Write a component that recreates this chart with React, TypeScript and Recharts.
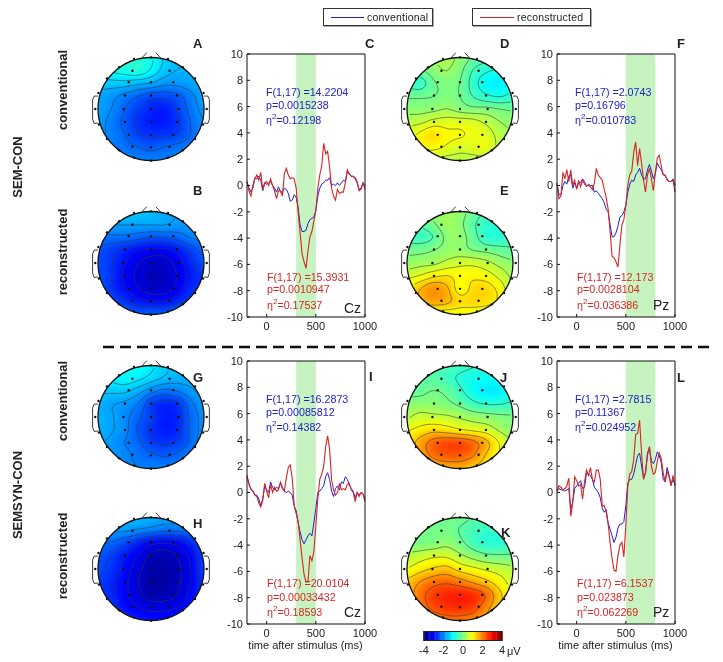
import { CSSProperties, ReactNode } from "react";
import {
  Line,
  LineChart,
  ReferenceArea,
  Scatter,
  ScatterChart,
  XAxis,
  YAxis,
} from "recharts";

const FONT = '"Liberation Sans", Arial, sans-serif';
const BLUE = "#2020cc";
const RED = "#d82424";

// --- waveforms, every 20 ms from -200 to 1000 ---
const TIMES = [
  -200, -180, -160, -140, -120, -100, -80, -60, -40, -20, 0, 20, 40, 60, 80, 100, 120, 140, 160, 180, 200, 220, 240,
  260, 280, 300, 320, 340, 360, 380, 400, 420, 440, 460, 480, 500, 520, 540, 560, 580, 600, 620, 640, 660, 680, 700,
  720, 740, 760, 780, 800, 820, 840, 860, 880, 900, 920, 940, 960, 980, 1000,
];

const C_RED = [
  0.3, -0.4, -0.8, 0, 0.5, 0.8, 0.4, 1, -0.3, 0.2, 0.3, 0, 0.5, 0, -0.4, -1, -0.4, -0.4, -0.8, 0.9, 1.3, 0.8, 0.5, 0.6,
  0.5, -0.2, -2, -3.6, -5.2, -5.8, -6.3, -5, -3.9, -3.5, -2.7, -1.9, -0.2, 0.8, 1.5, 3.2, 2.4, 2.6, 1.4, -0.2, -0.8,
  -1.1, -0.3, -0.6, -0.5, -0.5, 0.2, 1.2, 0.9, 0.7, 0.7, 0.6, 0.3, -0.4, -0.3, 0.2, -0.3,
];
const C_BLUE = [
  0.3, -0.2, -0.5, -0.2, 0.6, 0.5, 0.7, 0.4, -0.4, 0.2, 0.1, 0.2, 0.3, 0, -0.2, -0.5, -0.1, -0.5, -0.5, -0.2, -0.3,
  -0.6, -1.2, -1.1, -0.7, -0.9, -1.7, -3, -3.5, -3.5, -3.4, -2.9, -2.6, -2.5, -2.4, -1.9, -0.8, -0.2, 0.1, 0.2, 0.4,
  0.4, 0.6, 0, 0.1, 0, 0.2, 0, 0.2, 0.4, 0.3, 1, 0.9, 0.7, 0.7, 0.5, 0.2, -0.3, -0.2, 0.2, 0,
];
const F_RED = [
  0.2, -1, -0.8, 1, 0.5, 1.2, 0.3, 1.2, 0, 0.4, -0.3, 0.4, -0.1, 0.4, 0.1, 0, 0, -0.1, -0.3, 0.2, 1.3, 0.8, 0.6, 0.4,
  -0.3, -0.9, -1.8, -3.5, -5.4, -5.5, -5.8, -6.2, -4.5, -3, -2.6, -1.5, 0, 0.8, 1.1, 2.5, 3.3, 1.5, 2.8, 1.7, 0.4,
  -0.5, 0.8, 1.3, 0.5, -0.4, 1, 2.1, 2.3, 1.5, 0.8, 0.8, 0.4, 0.3, 0.3, 0.4, -0.5,
];
const F_BLUE = [
  0.1, -0.7, -0.7, 0, 0.3, 0.1, 0.7, 0.8, -0.2, 0.2, -0.2, 0.2, 0.2, 0.5, 0.3, -0.1, 0.1, 0, 0, -0.5, -0.4, -0.6, -0.8,
  -1, -1.3, -1.8, -2, -3, -3.9, -3.9, -3.6, -3.1, -2.4, -2.3, -2, -1.5, -0.5, 0.1, 0.4, 0.3, 0.8, 1, 1.3, 0.8, 0.5,
  0.5, 1.2, 1.6, 1.1, 0.5, 0.9, 1.7, 1.4, 1.2, 0.9, 0.7, 0.5, 0.3, 0.3, 0.5, 0,
];
const I_RED = [
  1.3, 0.6, 0.3, 0.1, -0.2, -0.3, -0.8, -1.1, -0.6, 0.7, 0.1, -0.4, 0.6, 0, 0.4, 0.1, 0.2, 0.8, 0.4, 0.1, 1.1, 1.9,
  2.1, 1.1, -1, -1.6, -2.2, -3.6, -5, -6.2, -6.8, -6.8, -4.8, -5.2, -4.5, -2.5, -0.5, 1, 1.4, 2, 3.5, 4.3, 3.3, 1, 0.2,
  -0.2, 0, 0.7, 0.2, 0.3, 0.2, 0.6, 0.7, 0.2, 0, -0.7, 0, -0.3, 0, -0.1, -0.7,
];
const I_BLUE = [
  1.2, 0.7, 0.2, 0.1, -0.2, -0.2, -0.5, -1, -0.5, 0.5, 0.2, 0, 0.8, 0.4, 0.2, 0.4, 0.3, 0.7, 0.3, 0.1, 0, 0.1, 0, -0.2,
  -1, -1.4, -2.3, -3, -3.6, -3.9, -3.6, -3.3, -3.1, -3.3, -2.3, -1.2, 0, 0.1, 0.3, 0.5, 1.2, 1.5, 1, 0.1, -0.3, 0.3,
  0.5, 0.2, 0.8, 0.7, 1.2, 1, 0.6, 0.3, 0.1, -0.4, 0, -0.2, 0, -0.1, -0.5,
];
const L_RED = [
  0.1, 0.5, 0.4, 0.2, 0.3, 0.5, 1.1, -1.8, -0.8, 1.2, 0.9, 0.5, 0.6, -0.5, 0.8, 1.7, 1.3, 1.9, 1, 0.8, 1.7, 1.7, 1, -1,
  -1, -1.5, -2.4, -3.8, -5, -5.9, -6, -4.8, -4, -3.8, -4.9, -2.5, 0.5, 1.4, 1.6, 2.5, 4.4, 4.5, 5.5, 3, 1, 1.5, 2.8,
  3.5, 2, 1.4, 1.5, 2.4, 3, 2.6, 1.5, 0.8, 1.6, 1.2, 0.5, 1.3, 0.5,
];
const L_BLUE = [
  0.1, 0.3, 0.2, 0.2, 0.1, 0.2, 0.3, -1.3, -0.7, 0.3, 0.5, 0.7, 0.9, 0.3, 0.4, 1.5, 1.4, 1.3, 1, 0.4, 0.2, 0, -0.4,
  -1.2, -1.5, -1.3, -2.3, -2.8, -3.3, -3.8, -3.4, -2.7, -2.4, -2.4, -2.2, -1, 0.7, 1, 1, 1.4, 2.1, 2.8, 3, 2, 1.1, 1.5,
  3, 3.4, 2.4, 2.2, 2.5, 3.1, 2.8, 2.3, 1, 0.8, 1.9, 1.3, 0.6, 1, 0.6,
];

const X_TICKS = [0, 500, 1000];
const Y_TICKS = [-10, -8, -6, -4, -2, 0, 2, 4, 6, 8, 10];

// --- scalp maps: uV on a 9x9 grid, top row = front of head ---
const MAP_A = [
  [-0.8, -0.8, -0.8, -0.7, -0.9, -1.3, -1.5, -1.5, -1.5],
  [-0.9, -0.9, -0.8, -0.7, -1.0, -1.4, -1.6, -1.6, -1.6],
  [-1.4, -1.4, -1.4, -1.5, -1.6, -1.8, -1.8, -1.7, -1.6],
  [-1.7, -1.8, -2.0, -2.2, -2.4, -2.4, -2.3, -2.0, -1.7],
  [-1.7, -1.9, -2.2, -2.5, -2.7, -2.8, -2.5, -2.1, -1.8],
  [-1.8, -2.0, -2.3, -2.6, -2.8, -2.8, -2.6, -2.2, -1.9],
  [-1.8, -2.0, -2.2, -2.5, -2.6, -2.6, -2.5, -2.2, -1.9],
  [-1.9, -2.0, -2.1, -2.2, -2.3, -2.2, -2.1, -2.0, -1.9],
  [-1.9, -1.9, -1.9, -2.0, -2.0, -2.0, -2.0, -1.9, -1.9],
];
const MAP_B = [
  [-1.2, -1.2, -1.3, -1.4, -1.5, -1.7, -1.7, -1.7, -1.7],
  [-1.7, -1.7, -1.7, -1.7, -1.7, -1.7, -1.8, -1.8, -1.8],
  [-2.1, -2.1, -2.1, -2.2, -2.3, -2.3, -2.2, -2.0, -1.9],
  [-2.4, -2.5, -2.7, -2.9, -3.0, -3.0, -2.8, -2.5, -2.2],
  [-2.4, -2.6, -2.9, -3.2, -3.4, -3.4, -3.1, -2.7, -2.4],
  [-2.4, -2.6, -3.0, -3.3, -3.5, -3.5, -3.2, -2.8, -2.6],
  [-2.3, -2.6, -2.9, -3.2, -3.4, -3.4, -3.1, -2.7, -2.6],
  [-2.2, -2.4, -2.6, -2.8, -2.9, -2.9, -2.7, -2.5, -2.2],
  [-2.1, -2.1, -2.2, -2.3, -2.3, -2.3, -2.2, -2.1, -2.1],
];
const MAP_D = [
  [0, 0, 0.25, 0.35, 0.15, -0.15, -0.3, -0.3, -0.3],
  [-0.15, -0.15, 0.1, 0.25, 0, -0.45, -0.7, -0.8, -0.7],
  [-0.5, -0.6, -0.15, 0, -0.1, -0.6, -1, -1.1, -0.85],
  [-0.15, -0.15, -0.1, 0, -0.1, -0.45, -0.7, -0.8, -0.65],
  [0.1, 0.1, 0.15, 0.25, 0.1, 0, 0, -0.1, -0.15],
  [0.45, 0.5, 0.7, 0.75, 0.75, 0.7, 0.5, 0.25, 0.1],
  [0.75, 1, 1.25, 1, 0.95, 0.85, 0.75, 0.45, 0.25],
  [0.75, 0.95, 1, 0.85, 0.7, 0.75, 0.85, 0.45, 0.25],
  [0.5, 0.5, 0.5, 0.45, 0.45, 0.45, 0.45, 0.45, 0.35],
];
const MAP_E = [
  [-0.1, -0.1, 0.15, 0.25, 0.15, -0.15, -0.4, -0.45, -0.45],
  [-0.3, -0.3, -0.05, 0.25, 0.1, -0.3, -0.6, -0.65, -0.55],
  [-0.5, -0.55, -0.35, 0.1, 0.15, -0.2, -0.65, -0.7, -0.55],
  [-0.1, -0.1, 0, 0.15, 0.15, 0, -0.1, -0.2, -0.3],
  [0.15, 0.25, 0.3, 0.5, 0.65, 0.65, 0.5, 0.25, 0.1],
  [0.65, 0.8, 1.05, 1.15, 1.0, 1.05, 0.95, 0.65, 0.3],
  [1.05, 1.5, 1.85, 1.6, 0.95, 1.25, 1.3, 1.0, 0.4],
  [1.15, 1.5, 1.7, 1.6, 1.3, 1.3, 1.25, 1.05, 0.55],
  [0.8, 0.9, 0.9, 0.9, 0.9, 0.9, 0.85, 0.75, 0.55],
];
const MAP_G = [
  [-1, -1, -0.9, -0.9, -1.1, -1.4, -1.5, -1.5, -1.5],
  [-1.1, -1.1, -1.0, -1.1, -1.3, -1.5, -1.6, -1.6, -1.6],
  [-1.4, -1.4, -1.4, -1.6, -1.9, -2.1, -2, -1.8, -1.6],
  [-1.6, -1.7, -1.8, -2, -2.5, -2.7, -2.6, -2.1, -1.8],
  [-1.6, -1.7, -1.9, -2.2, -2.5, -2.8, -2.7, -2.2, -1.9],
  [-1.6, -1.7, -1.9, -2.3, -2.6, -2.8, -2.7, -2.2, -1.9],
  [-1.7, -1.8, -2, -2.2, -2.5, -2.6, -2.5, -2.2, -1.8],
  [-1.8, -1.8, -1.9, -2.1, -2.2, -2.3, -2.2, -2, -1.8],
  [-1.8, -1.8, -1.9, -2, -2, -2, -2, -1.9, -1.9],
];
const MAP_H = [
  [-1.5, -1.5, -1.5, -1.5, -1.6, -1.7, -1.7, -1.7, -1.7],
  [-1.8, -1.8, -1.8, -1.9, -2, -2.1, -2.1, -2.1, -2.1],
  [-2.1, -2.2, -2.4, -2.7, -3, -3.1, -3, -2.7, -2.4],
  [-2.3, -2.5, -2.8, -3.1, -3.5, -3.6, -3.4, -3, -2.5],
  [-2.4, -2.6, -2.9, -3.3, -3.6, -3.7, -3.5, -3.1, -2.5],
  [-2.5, -2.7, -3, -3.4, -3.7, -3.7, -3.5, -3.1, -2.6],
  [-2.5, -2.7, -3, -3.3, -3.6, -3.6, -3.4, -3, -2.6],
  [-2.4, -2.6, -2.9, -3.1, -3.2, -3.2, -3.1, -2.8, -2.5],
  [-2.3, -2.4, -2.6, -2.8, -2.9, -2.9, -2.7, -2.5, -2.3],
];
const MAP_J = [
  [-0.35, -0.35, -0.4, -0.4, -0.5, -0.6, -0.65, -0.65, -0.65],
  [-0.25, -0.3, -0.3, -0.5, -0.7, -0.85, -0.9, -0.9, -0.85],
  [-0.25, -0.2, -0.1, -0.2, -0.55, -0.9, -1.15, -1.1, -0.85],
  [0.1, 0.1, 0.1, 0, -0.2, -0.5, -0.65, -0.65, -0.55],
  [0.35, 0.6, 0.55, 0.5, 0.35, 0.2, 0.1, 0, -0.05],
  [0.9, 1.1, 1.3, 1.2, 1, 0.85, 0.7, 0.35, 0.1],
  [1.15, 1.7, 2.2, 2.4, 2.4, 2.15, 1.6, 0.9, 0.45],
  [1.2, 1.65, 2.1, 2.3, 2.3, 2, 1.4, 0.9, 0.55],
  [1, 1.2, 1.5, 1.6, 1.6, 1.4, 1.15, 0.85, 0.7],
];
const MAP_K = [
  [-0.2, -0.2, -0.15, -0.1, -0.1, -0.25, -0.35, -0.35, -0.35],
  [0, 0, -0.1, -0.05, -0.25, -0.45, -0.55, -0.6, -0.55],
  [-0.05, -0.05, 0, 0.15, -0.1, -0.45, -0.7, -0.65, -0.55],
  [0.4, 0.55, 0.7, 0.7, 0.4, 0.1, -0.1, -0.15, -0.15],
  [0.8, 1.1, 1.35, 1.45, 1.1, 0.9, 0.7, 0.55, 0.4],
  [1.4, 1.8, 2.1, 2.2, 2, 1.7, 1.4, 1, 0.6],
  [1.5, 2.1, 2.5, 2.7, 2.75, 2.65, 2.2, 1.4, 0.8],
  [1.45, 2, 2.4, 2.6, 2.65, 2.5, 1.95, 1.3, 0.8],
  [1.25, 1.65, 1.95, 2.1, 2.1, 1.95, 1.6, 1.2, 0.8],
];

// electrode layout in head coordinates (radius 1 = rim)
const ELECTRODE_X = [
  -0.35, 0.35, -0.42, 0, 0.42, -0.49, 0, 0.49, -0.52, 0, 0.52, -0.49, 0, 0.49, -0.42, 0, 0.42, -0.35, 0, 0.35, -0.32, 0,
  0.32, -0.6, 0.6, -0.83, 0.83, -0.99, 0.99, -1.05, 1.05, -0.98, 0.98, -0.83, 0.83, -0.6, 0.6, -0.32, 0.32, 0,
];
const ELECTRODE_Y = [
  0.74, 0.74, 0.52, 0.52, 0.52, 0.26, 0.26, 0.26, 0, 0, 0, -0.25, -0.25, -0.25, -0.5, -0.5, -0.5, -0.73, -0.74, -0.73,
  0.97, 1, 0.97, 0.81, 0.81, 0.59, 0.59, 0.31, 0.31, 0, 0, -0.3, -0.3, -0.58, -0.58, -0.8, -0.8, -0.94, -0.94, -1,
];
const NOSE_LEFT = [{ x: -0.17, y: 0.99 }, { x: -0.08, y: 1.09 }];
const NOSE_RIGHT = [{ x: 0.09, y: 1.09 }, { x: 0.18, y: 0.99 }];
const EAR_LEFT = [
  { x: -1.0, y: 0.25 }, { x: -1.07, y: 0.25 }, { x: -1.1, y: 0.18 }, { x: -1.1, y: -0.2 }, { x: -1.07, y: -0.28 }, { x: -1.0, y: -0.27 },
];
const EAR_RIGHT = [
  { x: 1.0, y: 0.25 }, { x: 1.07, y: 0.25 }, { x: 1.1, y: 0.18 }, { x: 1.1, y: -0.2 }, { x: 1.07, y: -0.28 }, { x: 1.0, y: -0.27 },
];

const COLORBAR_TICKS = [-4, -2, 0, 2, 4];
const COLORBAR_LEVELS = Array.from({ length: 65 }, (_, i) => -4 + i / 8);

// jet colormap
function jet(v: number) {
  const t = Math.max(0, Math.min(1, (v + 4) / 8));
  const ch = (c: number) => Math.round(255 * Math.max(0, Math.min(1, 1.5 - Math.abs(4 * t - c))));
  return `rgb(${ch(3)},${ch(2)},${ch(1)})`;
}

// smooth the 9x9 readings up for display
const STEPS = 5;
function catmull(a: number, b: number, c: number, d: number, t: number) {
  return 0.5 * (2 * b + (c - a) * t + (2 * a - 5 * b + 4 * c - d) * t * t + (3 * b - a - 3 * c + d) * t * t * t);
}
function upsample(grid: number[][]) {
  const at = (r: number, c: number) => grid[Math.max(0, Math.min(8, r))][Math.max(0, Math.min(8, c))];
  const n = 8 * STEPS;
  const out: number[][] = [];
  for (let i = 0; i <= n; i++) {
    const row: number[] = [];
    const r = Math.min(7, Math.floor(i / STEPS));
    const tr = i / STEPS - r;
    for (let j = 0; j <= n; j++) {
      const c = Math.min(7, Math.floor(j / STEPS));
      const tc = j / STEPS - c;
      const across = [-1, 0, 1, 2].map((k) =>
        catmull(at(r + k, c - 1), at(r + k, c), at(r + k, c + 1), at(r + k, c + 2), tc)
      );
      row.push(catmull(across[0], across[1], across[2], across[3], tr));
    }
    out.push(row);
  }
  return out;
}

// marching squares, chained so each contour can be a Scatter line
function contours(fine: number[][], level: number) {
  const n = fine.length - 1;
  const toX = (j: number) => -1 + (2 * j) / n;
  const toY = (i: number) => 1 - (2 * i) / n;
  const pts = new Map<string, { x: number; y: number }>();
  const links = new Map<string, string[]>();
  const hEdge = (i: number, j: number) => {
    const a = fine[i][j];
    const b = fine[i][j + 1];
    if (a < level === b < level) return null;
    const key = `h${i}_${j}`;
    pts.set(key, { x: toX(j + (level - a) / (b - a)), y: toY(i) });
    return key;
  };
  const vEdge = (i: number, j: number) => {
    const a = fine[i][j];
    const b = fine[i + 1][j];
    if (a < level === b < level) return null;
    const key = `v${i}_${j}`;
    pts.set(key, { x: toX(j), y: toY(i + (level - a) / (b - a)) });
    return key;
  };
  const inside = (k: string) => {
    const p = pts.get(k)!;
    return p.x * p.x + p.y * p.y <= 1;
  };
  const link = (a: string, b: string) => {
    if (!inside(a) || !inside(b)) return;
    links.set(a, [...(links.get(a) || []), b]);
    links.set(b, [...(links.get(b) || []), a]);
  };
  for (let i = 0; i < n; i++) {
    for (let j = 0; j < n; j++) {
      const crossed = [hEdge(i, j), vEdge(i, j + 1), hEdge(i + 1, j), vEdge(i, j)].filter(Boolean) as string[];
      if (crossed.length >= 2) link(crossed[0], crossed[1]);
      if (crossed.length === 4) link(crossed[2], crossed[3]);
    }
  }
  const seen = new Set<string>();
  const walk = (start: string) => {
    const line: { x: number; y: number }[] = [];
    let cur: string | undefined = start;
    while (cur && !seen.has(cur)) {
      seen.add(cur);
      line.push(pts.get(cur)!);
      cur = (links.get(cur) || []).find((k) => !seen.has(k));
    }
    return line;
  };
  const lines: { x: number; y: number }[][] = [];
  // open ends first, then closed loops
  for (const [k, v] of links) if (v.length === 1 && !seen.has(k)) lines.push(walk(k));
  for (const k of links.keys()) {
    if (!seen.has(k)) {
      const line = walk(k);
      lines.push([...line, line[0]]);
    }
  }
  return lines.filter((l) => l.length > 2);
}

const HEAD_W = 138;
const HEAD_H = 124;
const RX = 53;
const RY = 51.5;

function CellShape(props: any) {
  return <rect x={props.cx - 1.7} y={props.cy - 1.7} width={3.4} height={3.4} fill={jet(props.payload.v)} />;
}
function BarCell(props: any) {
  return <rect x={props.cx - 0.8} y={props.cy - 5} width={1.6} height={10} fill={jet(props.payload.v)} />;
}
function HeadMask(props: any) {
  return <ellipse cx={props.cx} cy={props.cy} rx={RX + 6} ry={RY + 6} fill="none" stroke="#fff" strokeWidth={12} />;
}
function HeadRim(props: any) {
  return <ellipse cx={props.cx} cy={props.cy} rx={RX} ry={RY} fill="none" stroke="#111" strokeWidth={1.3} />;
}
function Dot(props: any) {
  return <circle cx={props.cx} cy={props.cy} r={1.2} fill="#111" />;
}
const NoMark = () => <g />;
const headMargin = { top: 0, right: 0, bottom: 0, left: 0 };

function ScalpMap({ grid, cx, cy }: { grid: number[][]; cx: number; cy: number }) {
  const fine = upsample(grid);
  const n = fine.length - 1;
  const cells: { x: number; y: number; v: number }[] = [];
  let lo = Infinity;
  let hi = -Infinity;
  fine.forEach((row, i) =>
    row.forEach((v, j) => {
      const x = -1 + (2 * j) / n;
      const y = 1 - (2 * i) / n;
      const r = x * x + y * y;
      if (r <= 1.25) cells.push({ x, y, v });
      if (r <= 1) {
        lo = Math.min(lo, v);
        hi = Math.max(hi, v);
      }
    })
  );
  // six contour levels across the range of each map
  const levels = [1, 2, 3, 4, 5, 6].map((k) => lo + ((hi - lo) * k) / 7);
  const lines = levels.flatMap((level) => contours(fine, level));
  const electrodes = ELECTRODE_X.map((x, i) => ({ x, y: ELECTRODE_Y[i] }));
  const origin = [{ x: 0, y: 0 }];
  const outline = { stroke: "#222", strokeWidth: 0.9 };
  return (
    <div style={{ position: "absolute", left: cx - HEAD_W / 2, top: cy - HEAD_H / 2, width: HEAD_W, height: HEAD_H }}>
      <div style={{ position: "absolute", left: 0, top: 0, filter: "blur(1.4px)" }}>
        <ScatterChart width={HEAD_W} height={HEAD_H} margin={headMargin}>
          <XAxis type="number" dataKey="x" domain={[-1.3, 1.3]} hide />
          <YAxis type="number" dataKey="y" domain={[-1.2, 1.2]} hide />
          <Scatter data={cells} shape={CellShape} isAnimationActive={false} />
        </ScatterChart>
      </div>
      <div style={{ position: "absolute", left: 0, top: 0 }}>
        <ScatterChart width={HEAD_W} height={HEAD_H} margin={headMargin}>
          <XAxis type="number" dataKey="x" domain={[-1.3, 1.3]} hide />
          <YAxis type="number" dataKey="y" domain={[-1.2, 1.2]} hide />
          <Scatter data={origin} shape={HeadMask} isAnimationActive={false} />
          {lines.map((l, i) => (
            <Scatter
              key={i}
              data={l}
              line={{ stroke: "#2e3a3a", strokeWidth: 0.8, strokeOpacity: 0.7 }}
              shape={NoMark}
              isAnimationActive={false}
            />
          ))}
          <Scatter data={origin} shape={HeadRim} isAnimationActive={false} />
          <Scatter data={NOSE_LEFT} line={outline} shape={NoMark} isAnimationActive={false} />
          <Scatter data={NOSE_RIGHT} line={outline} shape={NoMark} isAnimationActive={false} />
          <Scatter data={EAR_LEFT} line={outline} shape={NoMark} isAnimationActive={false} />
          <Scatter data={EAR_RIGHT} line={outline} shape={NoMark} isAnimationActive={false} />
          <Scatter data={electrodes} shape={Dot} isAnimationActive={false} />
        </ScatterChart>
      </div>
    </div>
  );
}

const tickFont = { fontFamily: FONT, fontSize: 11, fill: "#222" };
const PLOT_W = 118;
const PLOT_H = 263;

function Wave({
  left, top, red, blue, band, xLabel,
}: { left: number; top: number; red: number[]; blue: number[]; band: [number, number]; xLabel?: boolean }) {
  const data = TIMES.map((t, i) => ({ t, red: red[i], blue: blue[i] }));
  return (
    <div style={{ position: "absolute", left: left - 30, top: top - 7 }}>
      <LineChart
        width={30 + PLOT_W + 18}
        height={7 + PLOT_H + 36}
        data={data}
        margin={{ top: 6, right: 17, bottom: 0, left: 0 }}
      >
        <ReferenceArea x1={band[0]} x2={band[1]} fill="#c6f3bf" fillOpacity={1} stroke="none" />
        <XAxis
          dataKey="t"
          type="number"
          domain={[-200, 1000]}
          ticks={X_TICKS}
          interval={0}
          height={36}
          tickSize={-3}
          tickMargin={8}
          tick={tickFont}
          stroke="#111"
        />
        <XAxis xAxisId="top" dataKey="t" orientation="top" type="number" domain={[-200, 1000]} ticks={X_TICKS} height={1} tick={false} tickSize={-3} stroke="#111" />
        <YAxis
          type="number"
          domain={[-10, 10]}
          ticks={Y_TICKS}
          interval={0}
          width={30}
          tickSize={-3}
          tickMargin={7}
          tick={tickFont}
          stroke="#111"
        />
        <YAxis yAxisId="right" orientation="right" type="number" domain={[-10, 10]} ticks={Y_TICKS} width={1} tick={false} tickSize={-3} stroke="#111" />
        <Line xAxisId="top" yAxisId="right" dataKey="blue" stroke="none" dot={false} isAnimationActive={false} />
        <Line dataKey="blue" stroke={BLUE} strokeWidth={1} dot={false} isAnimationActive={false} />
        <Line dataKey="red" stroke={RED} strokeWidth={1.1} dot={false} isAnimationActive={false} />
      </LineChart>
      {xLabel && (
        <div style={{ position: "absolute", left: 30 + PLOT_W / 2 - 70, width: 140, top: 7 + PLOT_H + 15, textAlign: "center", fontFamily: FONT, fontSize: 11, color: "#222", whiteSpace: "nowrap" }}>
          time after stimulus (ms)
        </div>
      )}
    </div>
  );
}

function Txt({ x, y, size = 10.7, color = "#222", bold, rotate, children }: {
  x: number; y: number; size?: number; color?: string; bold?: boolean; rotate?: boolean; children: ReactNode;
}) {
  const style: CSSProperties = {
    position: "absolute",
    left: x,
    top: y,
    fontFamily: FONT,
    fontSize: size,
    color,
    fontWeight: bold ? 700 : 400,
    whiteSpace: "nowrap",
    lineHeight: 1,
    transform: rotate ? "translate(-50%, -50%) rotate(-90deg)" : "translateY(-50%)",
  };
  return <div style={style}>{children}</div>;
}

function Stats({ x, ys, color, f, p, eta }: { x: number; ys: number[]; color: string; f: string; p: string; eta: string }) {
  return (
    <>
      <Txt x={x} y={ys[0]} color={color}>{f}</Txt>
      <Txt x={x} y={ys[1]} color={color}>{p}</Txt>
      <Txt x={x} y={ys[2]} color={color}>
        η<sup style={{ fontSize: 8, lineHeight: 0 }}>2</sup>={eta}
      </Txt>
    </>
  );
}

function LegendBox({ left, width, lineW, color, label }: { left: number; width: number; lineW: number; color: string; label: string }) {
  return (
    <div style={{ position: "absolute", left, top: 8, width, height: 18, border: "1px solid #333", boxSizing: "border-box", boxShadow: "1px 1px 0 #aaa" }}>
      <svg style={{ position: "absolute", left: 7, top: 7 }} width={lineW} height={3}>
        <line x1={0} y1={1.5} x2={lineW} y2={1.5} stroke={color} strokeWidth={1.2} />
      </svg>
      <div style={{ position: "absolute", left: lineW + 10, top: 2, fontFamily: FONT, fontSize: 10.5, letterSpacing: 0.2, color: "#222" }}>{label}</div>
    </div>
  );
}

export default function App() {
  return (
    <div style={{ position: "absolute", left: 0, top: 0, width: 723, height: 662, background: "#fff", overflow: "hidden", filter: "blur(0.35px)" }}>
      <LegendBox left={323} width={110} lineW={33} color={BLUE} label="conventional" />
      <LegendBox left={472} width={119} lineW={34} color={RED} label="reconstructed" />

      <ScalpMap grid={MAP_A} cx={151} cy={109} />
      <ScalpMap grid={MAP_B} cx={151} cy={263} />
      <ScalpMap grid={MAP_G} cx={151} cy={417} />
      <ScalpMap grid={MAP_H} cx={151} cy={569} />
      <ScalpMap grid={MAP_D} cx={460} cy={109} />
      <ScalpMap grid={MAP_E} cx={460} cy={263} />
      <ScalpMap grid={MAP_J} cx={460} cy={417} />
      <ScalpMap grid={MAP_K} cx={460} cy={569} />

      <Wave left={246.5} top={54} red={C_RED} blue={C_BLUE} band={[300, 500]} />
      <Wave left={556.5} top={54} red={F_RED} blue={F_BLUE} band={[500, 800]} />
      <Wave left={246.5} top={361} red={I_RED} blue={I_BLUE} band={[300, 500]} xLabel />
      <Wave left={556.5} top={361} red={L_RED} blue={L_BLUE} band={[500, 800]} xLabel />

      <Stats x={266} ys={[92, 105, 120]} color={BLUE} f="F(1,17) =14.2204" p="p=0.0015238" eta="0.12198" />
      <Stats x={267} ys={[277, 289, 305]} color={RED} f="F(1,17) =15.3931" p="p=0.0010947" eta="0.17537" />
      <Stats x={575} ys={[92, 105, 120]} color={BLUE} f="F(1,17) =2.0743" p="p=0.16796" eta="0.010783" />
      <Stats x={577} ys={[277, 289, 305]} color={RED} f="F(1,17) =12.173" p="p=0.0028104" eta="0.036386" />
      <Stats x={266} ys={[399, 412, 427]} color={BLUE} f="F(1,17) =16.2873" p="p=0.00085812" eta="0.14382" />
      <Stats x={267} ys={[583, 597, 612]} color={RED} f="F(1,17) =20.0104" p="p=0.00033432" eta="0.18593" />
      <Stats x={575} ys={[399, 412, 427]} color={BLUE} f="F(1,17) =2.7815" p="p=0.11367" eta="0.024952" />
      <Stats x={577} ys={[583, 597, 612]} color={RED} f="F(1,17) =6.1537" p="p=0.023873" eta="0.062269" />

      <Txt x={344} y={308} size={14}>Cz</Txt>
      <Txt x={653} y={305} size={14}>Pz</Txt>
      <Txt x={344} y={612} size={14}>Cz</Txt>
      <Txt x={653} y={612} size={14}>Pz</Txt>

      <Txt x={193} y={43} size={13} bold>A</Txt>
      <Txt x={193} y={190} size={13} bold>B</Txt>
      <Txt x={365} y={43} size={13} bold>C</Txt>
      <Txt x={500} y={43} size={13} bold>D</Txt>
      <Txt x={500} y={190} size={13} bold>E</Txt>
      <Txt x={677} y={43} size={13} bold>F</Txt>
      <Txt x={193} y={377} size={13} bold>G</Txt>
      <Txt x={193} y={523} size={13} bold>H</Txt>
      <Txt x={369} y={376} size={13} bold>I</Txt>
      <Txt x={500} y={377} size={13} bold>J</Txt>
      <Txt x={501} y={532} size={13} bold>K</Txt>
      <Txt x={677} y={377} size={13} bold>L</Txt>

      <Txt x={62} y={90} size={13} bold rotate>conventional</Txt>
      <Txt x={62} y={252} size={13} bold rotate>reconstructed</Txt>
      <Txt x={62} y={401} size={13} bold rotate>conventional</Txt>
      <Txt x={62} y={556} size={13} bold rotate>reconstructed</Txt>
      <Txt x={17} y={167} size={13} bold rotate>SEM-CON</Txt>
      <Txt x={17} y={495} size={13} bold rotate>SEMSYN-CON</Txt>

      <svg style={{ position: "absolute", left: 0, top: 340 }} width={723} height={14}>
        <line x1={103} y1={7} x2={715} y2={7} stroke="#111" strokeWidth={2.5} strokeDasharray="11 6" />
      </svg>

      <div style={{ position: "absolute", left: 412, top: 631 }}>
        <ScatterChart width={102} height={31} margin={{ top: 0, right: 12, bottom: 0, left: 12 }}>
          <XAxis
            type="number"
            dataKey="v"
            domain={[-4, 4]}
            ticks={COLORBAR_TICKS}
            interval={0}
            height={21}
            axisLine={false}
            tickLine={false}
            tickSize={0}
            tickMargin={5}
            tick={tickFont}
          />
          <YAxis type="number" dataKey="y" domain={[0, 1]} hide />
          <Scatter data={COLORBAR_LEVELS.map((v) => ({ v, y: 0.5 }))} shape={BarCell} isAnimationActive={false} />
        </ScatterChart>
        <div style={{ position: "absolute", left: 12, top: 0, width: 78, height: 10, border: "1px solid #222", boxSizing: "border-box" }} />
      </div>
      <Txt x={507} y={651} size={11}>μV</Txt>
    </div>
  );
}
